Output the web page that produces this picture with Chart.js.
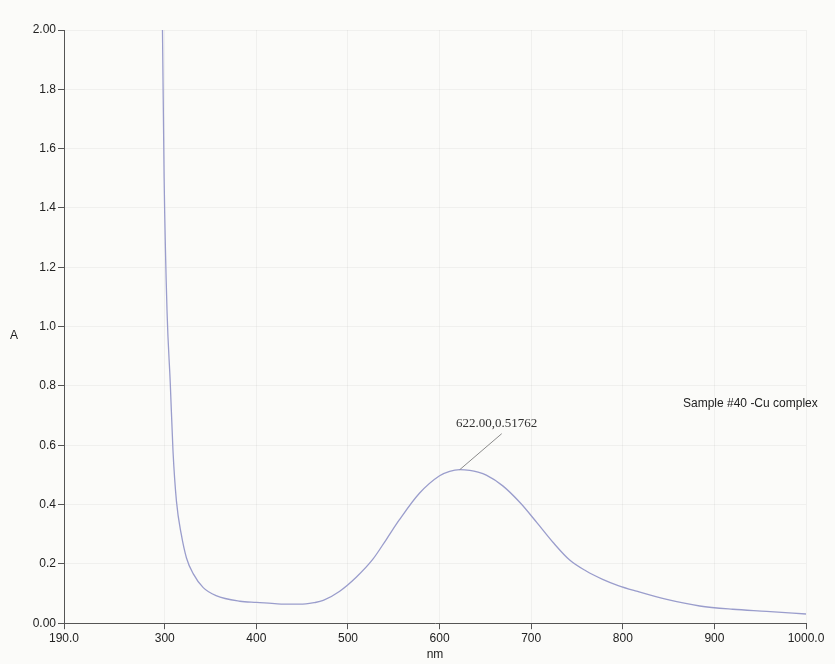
<!DOCTYPE html>
<html>
<head>
<meta charset="utf-8">
<title>Sample #40 -Cu complex</title>
<script src="https://cdn.jsdelivr.net/npm/chart.js@4.4.1/dist/chart.umd.min.js"></script>
<style>
  html, body { margin: 0; padding: 0; background: #fbfbf9; }
  #wrap { width: 835px; height: 664px; position: relative; }
</style>
</head>
<body>
<div id="wrap"><canvas id="spectrum"></canvas></div>
<script>
// --- Data ---
const wavelengths = [296, 297.5, 299.3, 302.5, 306, 309, 312.8, 318, 323.7, 331, 342, 356, 382,
  400, 420, 436, 454, 463, 473, 491, 509, 527, 542, 556, 578, 600, 611, 622, 633, 642, 651, 669,
  688, 706, 724, 742, 760, 778, 795, 815, 848, 884, 920, 957, 1000];
const absorbance = [2.3, 2.0, 1.5, 1.05, 0.81, 0.58, 0.41, 0.30, 0.22, 0.167, 0.12, 0.093, 0.074,
  0.070, 0.066, 0.064, 0.065, 0.069, 0.077, 0.108, 0.155, 0.215, 0.283, 0.348, 0.438, 0.497,
  0.512, 0.5176, 0.515, 0.509, 0.499, 0.463, 0.406, 0.340, 0.272, 0.213, 0.176, 0.148, 0.127,
  0.108, 0.080, 0.058, 0.047, 0.040, 0.031];
const xTicks = [190, 300, 400, 500, 600, 700, 800, 900, 1000];
const yTicks = [0, 0.2, 0.4, 0.6, 0.8, 1.0, 1.2, 1.4, 1.6, 1.8, 2.0];
const peak = { x: 622.00, y: 0.51762 };
const sampleName = "Sample #40 -Cu complex";

const sansFont = "'Liberation Sans', Arial, sans-serif";

// --- Labels drawn on top (peak note, sample name, "A") ---
const notesPlugin = {
  id: "notes",
  afterDatasetsDraw(chart) {
    const { ctx, scales: { x, y }, chartArea } = chart;
    const px = x.getPixelForValue(peak.x);
    const py = y.getPixelForValue(peak.y);
    ctx.save();
    // leader line
    ctx.strokeStyle = "#8a8a8a";
    ctx.lineWidth = 1;
    ctx.beginPath();
    ctx.moveTo(px, py);
    ctx.lineTo(px + 42, py - 36);
    ctx.stroke();
    // peak value
    ctx.fillStyle = "#333";
    ctx.font = "13px 'Liberation Serif', 'Times New Roman', serif";
    ctx.textAlign = "center";
    ctx.textBaseline = "middle";
    ctx.fillText(peak.x.toFixed(2) + "," + peak.y.toFixed(5), px + 37, py - 46);
    // sample name
    ctx.font = "12px " + sansFont;
    ctx.fillStyle = "#222";
    ctx.textAlign = "left";
    ctx.fillText(sampleName, chartArea.right - 123, y.getPixelForValue(0.74));
    // y axis name
    ctx.fillText("A", 10, y.getPixelForValue(0.97));
    ctx.restore();
  }
};

new Chart(document.getElementById("spectrum"), {
  type: "line",
  data: {
    datasets: [{
      data: wavelengths.map((w, i) => ({ x: w, y: absorbance[i] })),
      borderColor: "#9a9dcc",
      borderWidth: 1.3,
      pointRadius: 0,
      cubicInterpolationMode: "monotone",
      fill: false
    }]
  },
  options: {
    responsive: true,
    maintainAspectRatio: false,
    animation: false,
    layout: { padding: { left: 0, right: 29, top: 30, bottom: 0 } },
    plugins: { legend: { display: false }, tooltip: { enabled: false } },
    scales: {
      x: {
        type: "linear",
        min: 190,
        max: 1000,
        afterBuildTicks: (axis) => { axis.ticks = xTicks.map(v => ({ value: v })); },
        ticks: {
          autoSkip: false,
          maxRotation: 0,
          color: "#222",
          font: { family: sansFont, size: 12 },
          padding: 2,
          callback: (v) => (v === 190 || v === 1000) ? v.toFixed(1) : String(v)
        },
        grid: { color: "rgba(0,0,0,0.045)", tickColor: "#555", tickLength: 6 },
        border: { color: "#555", width: 1 },
        title: {
          display: true,
          text: "nm",
          color: "#222",
          font: { family: sansFont, size: 12 },
          padding: { top: 0, bottom: 2 }
        }
      },
      y: {
        min: 0,
        max: 2,
        afterBuildTicks: (axis) => { axis.ticks = yTicks.map(v => ({ value: v })); },
        afterFit: (axis) => { axis.width = 64; },
        ticks: {
          autoSkip: false,
          color: "#222",
          font: { family: sansFont, size: 12 },
          padding: 2,
          callback: (v) => (v === 0 || v === 2) ? v.toFixed(2) : v.toFixed(1)
        },
        grid: { color: "rgba(0,0,0,0.045)", tickColor: "#555", tickLength: 6 },
        border: { color: "#555", width: 1 }
      }
    }
  },
  plugins: [notesPlugin]
});
</script>
</body>
</html>
